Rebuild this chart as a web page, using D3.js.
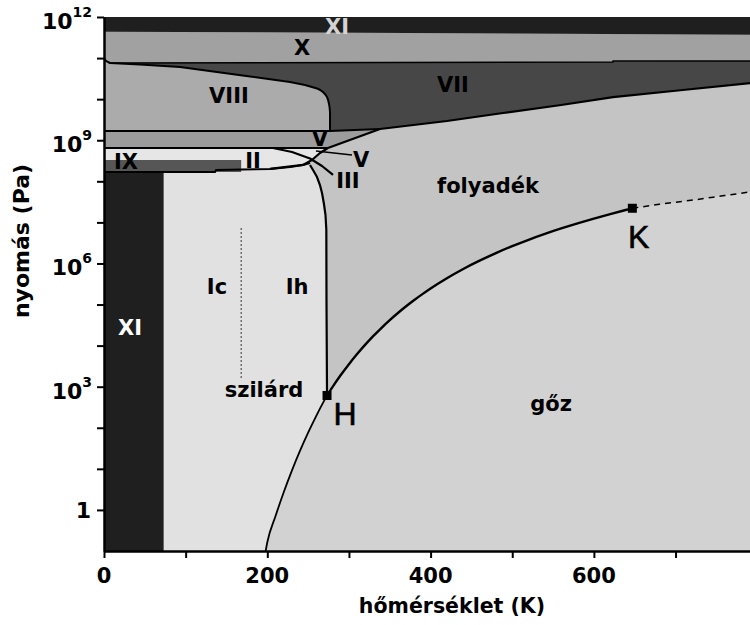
<!DOCTYPE html>
<html><head><meta charset="utf-8">
<script src="https://cdn.jsdelivr.net/npm/d3@7"></script>
<style>body{margin:0;background:#fff}svg{display:block}</style>
</head><body><svg id="c" width="750" height="625"></svg>
<script>
// ---------- data (temperature in K, pressure in Pa) ----------
const xTicks = [0, 100, 200, 300, 400, 500, 600, 700];
const xTickLabels = [0, 200, 400, 600];
const yTickExps = [0,1,2,3,4,5,6,7,8,9,10,11,12];
const yLabelExps = [0, 3, 6, 9, 12];

const sublimation = [[198,0.1],[200,0.163],[210,0.70],[220,2.66],[230,8.95],[240,27.3],[250,76.0],[260,195.8],[270,470.1],[273.16,611]];
const vaporCurve = [[273.16,611],[280,992],[290,1919],[300,3537],[310,6231],[320,10546],[330,17213],[340,27188],[350,41682],[360,62194],[373.15,101325],[380,128920],[390,179270],[400,245770],[420,437240],[440,733680],[460,1168000],[480,1790000],[500,2639000],[520,3769000],[540,5237000],[560,7106000],[580,9448000],[600,12345000],[620,15901000],[640,20265000],[647.1,22064000]];
const supercritical = [[647.1,2.206e7],[680,2.75e7],[721.4,3.5e7],[760,4.5e7],[791.2,5.5e7]];
const meltIh = [[273.16,611],[272.5,1.29e5],[272.3,6.53e6],[271.3,1.51e7],[269.4,2.8e7],[267,5.2e7],[264.5,8.1e7],[260.9,1.27e8],[256,1.88e8],[252.3,2.5e8]];
const ihTop = [[0,1.69e8],[136,1.69e8],[137.2,1.89e8],[203.3,2.0e8],[227.8,2.24e8],[243.7,2.5e8],[252.3,2.8e8]];
const lineA = [[207,6.47e8],[230.3,5.17e8],[252.3,3.59e8],[267,2.36e8],[280.5,1.43e8]];
const lineB = [[203.3,2.0e8],[243.7,2.5e8],[254.7,3.31e8],[264.5,4.89e8],[274.3,6.47e8]];
const pointerV = [[259.6,5.47e8],[303.7,4.36e8]];
const viLiquidVii = [[274.3,6.47e8],[338,1.88e9],[420,2.94e9],[488.7,4.6e9],[560,7.2e9],[623.4,1.12e10],[700,1.6e10],[791.2,2.46e10]];
const viTop = [[0,1.68e9],[276.8,1.68e9],[338,1.88e9]];
const viBottom = [[0,6.47e8],[274.3,6.47e8]];
const viiiBoundary = [[276.8,1.68e9],[276.8,4.86e9],[276.2,6.5e9],[275.6,7.62e9],[274.6,9.3e9],[273.1,1.13e10],[270.8,1.32e10],[268.2,1.49e10],[264.8,1.67e10],[260.9,1.82e10],[246.2,2.21e10],[227.8,2.62e10],[178.8,3.56e10],[93.1,6.07e10],[44.1,6.98e10],[7.3,7.59e10],[2.4,8.5e10],[0,1e11]];
const xBottom = [[7.3,7.59e10],[623.4,8.04e10],[623.4,8.5e10],[791.2,8.5e10]];
const xTopBoundary = [[0,4.4e11],[791.2,3.7e11]];
const xiLeftT = 73;
const ixStrip = [[0,1.69e8],[168,3.31e8]];
const icIhDivider = [[168,7.3e6],[168,1.45e3]];
const specialPoints = [[273.16,611],[647.1,2.206e7]];

const labels = [
  {t:"XI", T:285.4, P:3.9e11, fill:"#d4d4d4"},
  {t:"X", T:242.5, P:1.2e11},
  {t:"VIII", T:153, P:8.1e9},
  {t:"VII", T:427.4, P:1.5e10},
  {t:"V", T:264.5, P:7.2e8},
  {t:"V", T:314.8, P:2.24e8},
  {t:"III", T:298.8, P:6.9e7},
  {t:"II", T:182.5, P:2.14e8},
  {t:"IX", T:27, P:2.0e8},
  {t:"XI", T:31.8, P:1.8e4, fill:"#ffffff"},
  {t:"Ic", T:138.4, P:1.8e5},
  {t:"Ih", T:236.4, P:1.8e5},
  {t:"szilárd", T:196, P:560},
  {t:"folyadék", T:470.3, P:5.2e7},
  {t:"gőz", T:547.5, P:250},
  {t:"H", T:295.2, P:117, big:true},
  {t:"K", T:655, P:2.4e6, big:true}
];

// ---------- scales ----------
const svg = d3.select("#c");
const x = d3.scaleLinear().domain([0, 791.2]).range([104, 750]);
const y = d3.scaleLog().domain([0.1, 1e12]).range([551, 17]);
const line = d3.line().x(d => x(d[0])).y(d => y(d[1]));
const smooth = d3.line().x(d => x(d[0])).y(d => y(d[1])).curve(d3.curveMonotoneX);
const poly = pts => line(pts) + "Z";

const C = {vap:"#d2d2d2", liq:"#c4c4c4", ih:"#e1e1e1", xi:"#1f1f1f", ii:"#e6e6e6", ix:"#565656", vi:"#9c9c9c", viii:"#ababab", vii:"#474747", x:"#a1a1a1"};

const g = svg.append("g");
// vapor background
g.append("path").attr("d", poly([[0,0.1],[791.2,0.1],[791.2,1e12],[0,1e12]])).attr("fill", C.vap);
// liquid
const liquid = [].concat(vaporCurve, supercritical.slice(1), [[791.2,2.46e10]], viLiquidVii.slice().reverse(), [[264.5,4.89e8],[252.3,2.8e8]], meltIh.slice().reverse());
g.append("path").attr("d", poly(liquid)).attr("fill", C.liq);
// Ih
const ih = [].concat([[xiLeftT,0.1]], sublimation, meltIh.slice(1), ihTop.slice().reverse().filter(d => d[0] >= xiLeftT), [[xiLeftT,1.69e8]]);
g.append("path").attr("d", poly(ih)).attr("fill", C.ih);
// XI left column
g.append("path").attr("d", poly([[0,0.1],[xiLeftT,0.1],[xiLeftT,1.69e8],[0,1.69e8]])).attr("fill", C.xi);
// II region
const ii = [].concat(ihTop.slice(0,4), lineB.slice(1), [[0,6.47e8]]);
g.append("path").attr("d", poly(ii)).attr("fill", C.ii);
// IX strip
g.append("path").attr("d", poly([[ixStrip[0][0],ixStrip[0][1]],[ixStrip[1][0],ixStrip[0][1]],[ixStrip[1][0],ixStrip[1][1]],[ixStrip[0][0],ixStrip[1][1]]])).attr("fill", C.ix);
// VI
const vi = [].concat(viBottom, [[338,1.88e9]], viTop.slice(0,2).reverse());
g.append("path").attr("d", poly(vi)).attr("fill", C.vi);
// VII
const vii = [].concat([[0,1.68e9]], viTop.slice(1), viLiquidVii.slice(2), [[791.2,8.5e10],[0,8.04e10]]);
g.append("path").attr("d", poly(vii)).attr("fill", C.vii);
// VIII
const viii = [].concat([[0,1.68e9]], viiiBoundary);
g.append("path").attr("d", poly(viii)).attr("fill", C.viii);
// X
const xr = [].concat([[0,1e11]], xBottom, xTopBoundary.slice().reverse());
g.append("path").attr("d", poly(xr)).attr("fill", C.x);
// XI top
g.append("path").attr("d", poly([].concat(xTopBoundary, [[791.2,1e12],[0,1e12]]))).attr("fill", C.xi);

// ---------- boundary lines ----------
const lg = svg.append("g").attr("fill","none").attr("stroke","#000").attr("stroke-linejoin","round");
lg.append("path").attr("d", smooth(sublimation)).attr("stroke-width", 1.8);
lg.append("path").attr("d", smooth(vaporCurve)).attr("stroke-width", 2.4);
[[meltIh,2.2],[ihTop,2],[lineA,2.2],[lineB,2.2],[pointerV,1.6],[viLiquidVii,2.2],[viTop,2],[viBottom,2],[viiiBoundary,2],[xBottom,1.6]]
  .forEach(([pts,w]) => lg.append("path").attr("d", line(pts)).attr("stroke-width", w));
lg.append("path").attr("d", smooth(supercritical)).attr("stroke-width",1.5).attr("stroke-dasharray","6,5");
lg.append("path").attr("d", line(icIhDivider)).attr("stroke-width",1).attr("stroke-dasharray","2,2").attr("stroke","#333");

// markers
svg.selectAll("rect.pt").data(specialPoints).enter().append("rect")
  .attr("x", d => x(d[0]) - 4.5).attr("y", d => y(d[1]) - 4.5).attr("width", 9).attr("height", 9).attr("fill","#000");

// ---------- labels ----------
svg.selectAll("text.lab").data(labels).enter().append("text")
  .attr("x", d => x(d.T)).attr("y", d => y(d.P))
  .attr("text-anchor","middle")
  .attr("font-family", d => d.big ? "Liberation Sans, Arial, sans-serif" : "DejaVu Sans, sans-serif")
  .attr("font-weight", d => d.big ? "normal" : "bold")
  .attr("font-size", d => d.big ? 32 : 21)
  .attr("stroke", d => d.big ? "#000" : "none").attr("stroke-width", d => d.big ? 0.6 : 0)
  .attr("fill", d => d.fill || "#000")
  .text(d => d.t);

// ---------- axes ----------
const yAxis = d3.axisLeft(y).tickValues(yTickExps.map(e => Math.pow(10,e))).tickSize(7).tickSizeOuter(0).tickFormat("");
const ya = svg.append("g").attr("transform","translate(104,0)").call(yAxis);
ya.select(".domain").attr("stroke-width",2.5);
ya.selectAll(".tick line").attr("stroke-width",2);

const xAxis = d3.axisBottom(x).tickValues(xTicks).tickSize(7).tickSizeOuter(0).tickFormat("");
const xa = svg.append("g").attr("transform","translate(0,551)").call(xAxis);
xa.select(".domain").attr("stroke-width",2.5);
xa.selectAll(".tick line").attr("stroke-width",2);

const tf = "DejaVu Sans, sans-serif";
svg.selectAll("text.xl").data(xTickLabels).enter().append("text")
  .attr("x", d => x(d)).attr("y", 583).attr("text-anchor","middle")
  .attr("font-family", tf).attr("font-weight","bold").attr("font-size",21).text(d => d);

yLabelExps.forEach(e => {
  const yy = y(Math.pow(10,e));
  if (e === 0) {
    svg.append("text").attr("x", 91).attr("y", yy + 8).attr("text-anchor","end")
      .attr("font-family", tf).attr("font-weight","bold").attr("font-size",22).text("1");
  } else {
    const t = svg.append("text").attr("x", 92).attr("y", yy + 12).attr("text-anchor","end")
      .attr("font-family", tf).attr("font-weight","bold").attr("font-size",22);
    t.append("tspan").text("10");
    t.append("tspan").attr("dy", -12).attr("font-size",14).text(e);
  }
});

svg.append("text").attr("x", 452).attr("y", 613).attr("text-anchor","middle")
  .attr("font-family", tf).attr("font-weight","bold").attr("font-size",20.5).text("hőmérséklet (K)");
svg.append("text").attr("transform","translate(29,241) rotate(-90)").attr("text-anchor","middle")
  .attr("font-family", tf).attr("font-weight","bold").attr("font-size",22).text("nyomás (Pa)");
</script></body></html>
